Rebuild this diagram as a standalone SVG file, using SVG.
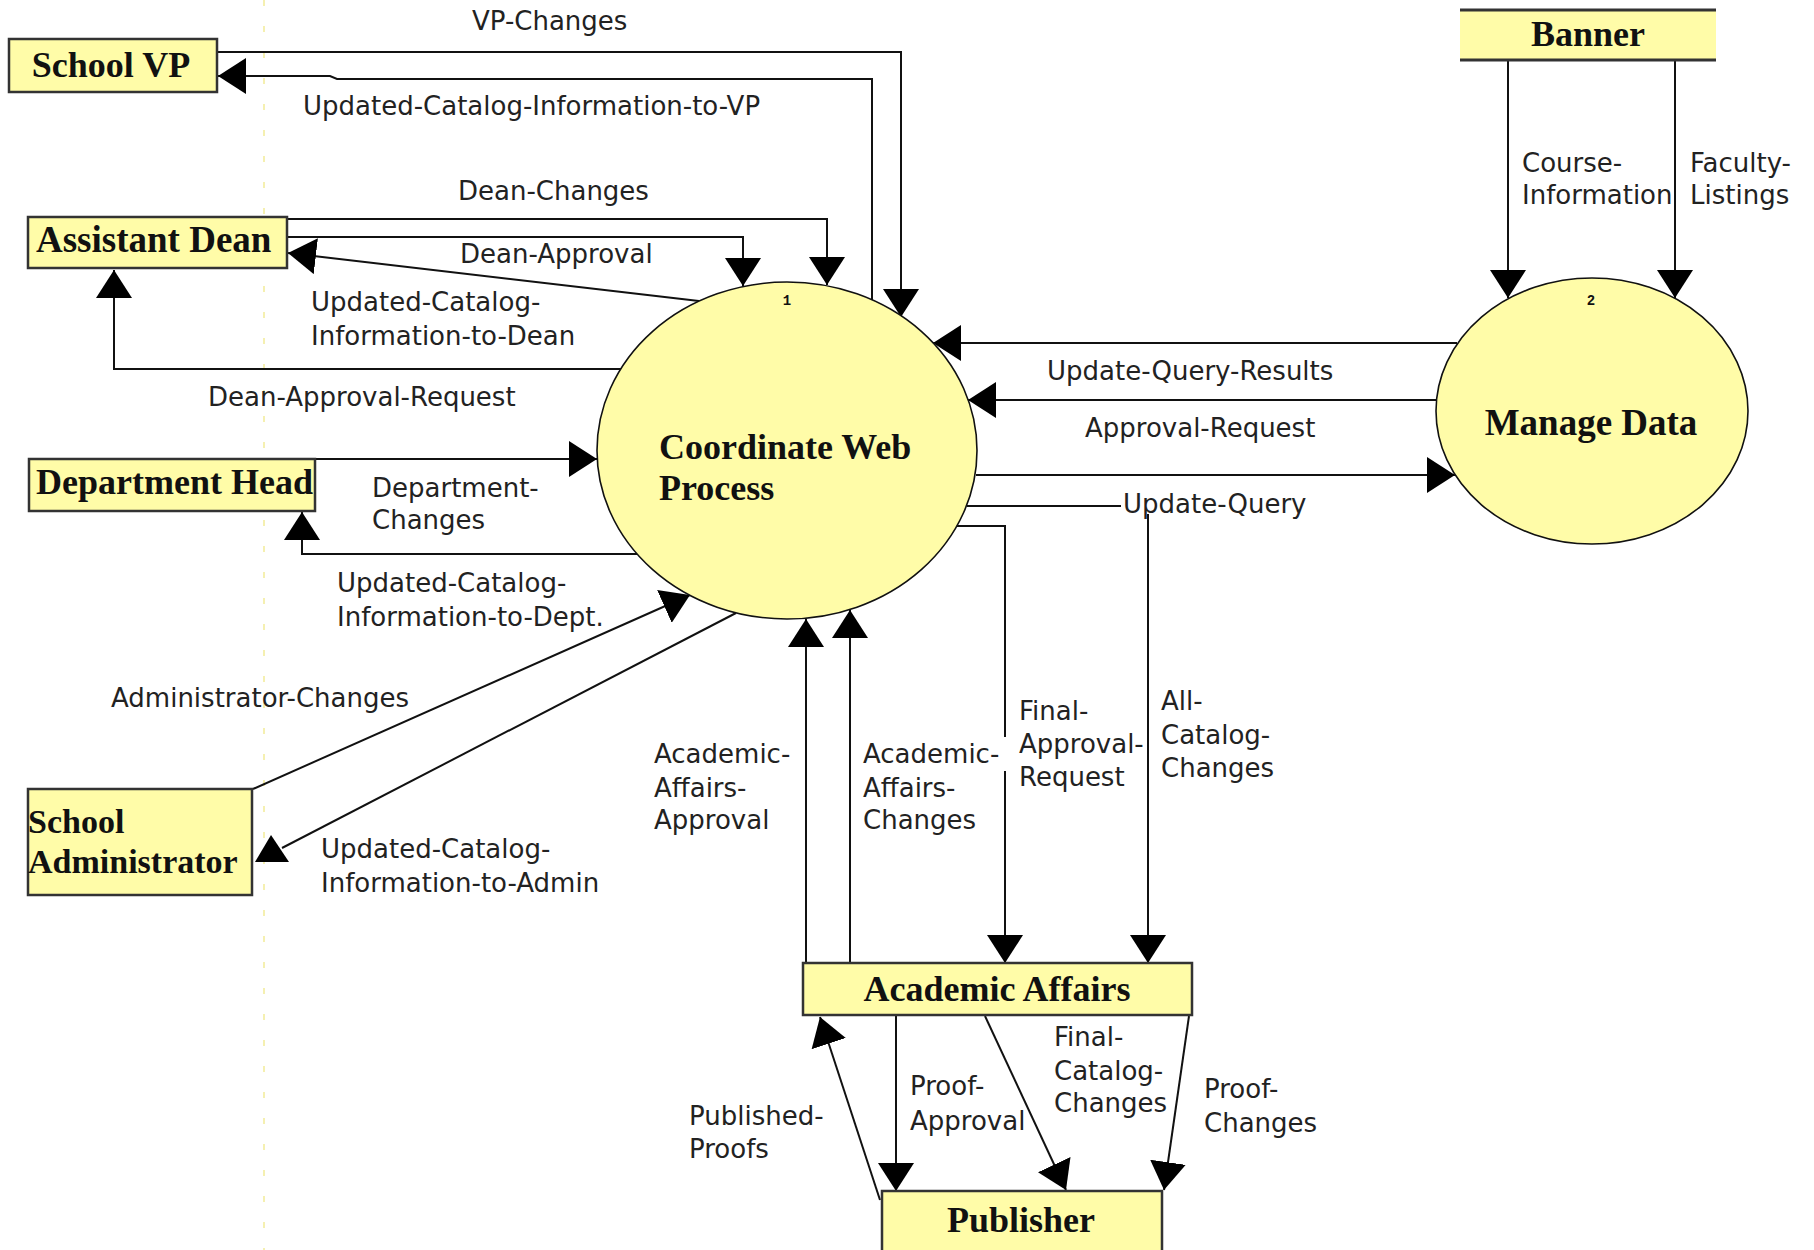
<svg xmlns="http://www.w3.org/2000/svg" width="1814" height="1250" viewBox="0 0 1814 1250">
<defs>
<style>
.box{fill:#fffca8;stroke:#333;stroke-width:2.5}
.proc{fill:#fffca8;stroke:#111;stroke-width:1.6}
.nt{font-family:"Liberation Serif","Times New Roman",serif;font-weight:bold;font-size:36px;fill:#111}
.lb{font-family:"DejaVu Sans",Verdana,sans-serif;font-size:26px;fill:#222}
.num{font-family:"Liberation Mono","Courier New",monospace;font-weight:bold;font-size:14px;fill:#111}
.cn{fill:none;stroke:#111;stroke-width:2}
.cn path{marker-end:url(#ah)}
</style>
<marker id="ah" viewBox="0 0 28 36" refX="28" refY="18" markerWidth="28" markerHeight="36" markerUnits="userSpaceOnUse" orient="auto">
<path d="M0,0 L28,18 L0,36 Z" fill="#000" stroke="none"/>
</marker>
</defs>
<rect width="1814" height="1250" fill="#fff"/>
<line x1="264" y1="0" x2="264" y2="1250" stroke="#f2ec98" stroke-width="1.5" stroke-dasharray="6 20"/>

<g id="connectors" class="cn">
<path id="vp-changes" d="M217,52 H901 V317"/>
<path id="upd-vp" d="M872,300 V79 H337 L330,76 H218"/>
<path id="dean-changes" d="M287,219 H827 V285"/>
<path id="dean-approval" d="M287,237 H743 V286"/>
<path id="upd-dean" d="M699,301 L288,253"/>
<path id="dean-approval-request" d="M622,369 H114 V270"/>
<path id="dept-changes" d="M315,459 H597"/>
<path id="upd-dept" d="M637,554 H302 V512"/>
<path id="admin-changes" d="M253,789 L690,595"/>
<path id="upd-admin" d="M736,613 L282,848" style="marker-end:none"/>
<polygon points="255,862 289,862 271,835" fill="#000" stroke="none"/>
<path id="upd-query-results" d="M1457,343 H933"/>
<path id="approval-request" d="M1437,400 H968"/>
<path id="update-query" d="M976,475 H1455"/>
<path id="all-catalog" d="M967,506 H1121 M1148,514 V963"/>
<path id="final-approval-a" d="M957,526 H1005 V737" style="marker-end:none"/>
<path id="final-approval-b" d="M1005,771 V963"/>
<path id="aa-approval" d="M806,963 V619"/>
<path id="aa-changes" d="M850,963 V610"/>
<path id="proof-approval" d="M896,1015 V1191"/>
<path id="final-catalog" d="M985,1016 L1066,1190"/>
<path id="proof-changes" d="M1189,1016 L1164,1190"/>
<path id="published-proofs" d="M880,1200 L820,1017"/>
<path id="course-info" d="M1508,60 V298"/>
<path id="faculty-listings" d="M1675,60 V298"/>
</g>

<g id="labels" class="lb">
<text x="472" y="30">VP-Changes</text>
<text x="303" y="115">Updated-Catalog-Information-to-VP</text>
<text x="458" y="200">Dean-Changes</text>
<text x="460" y="263">Dean-Approval</text>
<text x="311" y="311">Updated-Catalog-</text>
<text x="311" y="345">Information-to-Dean</text>
<text x="208" y="406">Dean-Approval-Request</text>
<text x="372" y="497">Department-</text>
<text x="372" y="529">Changes</text>
<text x="337" y="592">Updated-Catalog-</text>
<text x="337" y="626">Information-to-Dept.</text>
<text x="111" y="707">Administrator-Changes</text>
<text x="321" y="858">Updated-Catalog-</text>
<text x="321" y="892">Information-to-Admin</text>
<text x="1047" y="380">Update-Query-Results</text>
<text x="1085" y="437">Approval-Request</text>
<text x="1123" y="513">Update-Query</text>
<text x="1019" y="720">Final-</text>
<text x="1019" y="753">Approval-</text>
<text x="1019" y="786">Request</text>
<text x="1161" y="710">All-</text>
<text x="1161" y="744">Catalog-</text>
<text x="1161" y="777">Changes</text>
<text x="654" y="763">Academic-</text>
<text x="654" y="797">Affairs-</text>
<text x="654" y="829">Approval</text>
<text x="863" y="763">Academic-</text>
<text x="863" y="797">Affairs-</text>
<text x="863" y="829">Changes</text>
<text x="910" y="1095">Proof-</text>
<text x="910" y="1130">Approval</text>
<text x="1054" y="1046">Final-</text>
<text x="1054" y="1080">Catalog-</text>
<text x="1054" y="1112">Changes</text>
<text x="1204" y="1098">Proof-</text>
<text x="1204" y="1132">Changes</text>
<text x="689" y="1125">Published-</text>
<text x="689" y="1158">Proofs</text>
<text x="1522" y="172">Course-</text>
<text x="1522" y="204">Information</text>
<text x="1690" y="172">Faculty-</text>
<text x="1690" y="204">Listings</text>
</g>

<g id="school-vp">
<rect class="box" x="9" y="39" width="208" height="53"/>
<text class="nt" x="111" y="77" text-anchor="middle">School VP</text>
</g>
<g id="banner">
<rect x="1460" y="9" width="256" height="51" fill="#fffca8"/>
<line x1="1460" y1="10" x2="1716" y2="10" stroke="#333" stroke-width="3"/>
<line x1="1460" y1="60" x2="1716" y2="60" stroke="#333" stroke-width="3"/>
<text class="nt" x="1588" y="46" text-anchor="middle">Banner</text>
</g>
<g id="assistant-dean">
<rect class="box" x="28" y="217" width="259" height="51"/>
<text class="nt" x="36" y="252" style="font-size:37px">Assistant Dean</text>
</g>
<g id="department-head">
<rect class="box" x="29" y="459" width="286" height="52"/>
<text class="nt" x="36" y="494">Department Head</text>
</g>
<g id="school-administrator">
<rect class="box" x="28" y="789" width="224" height="106"/>
<text class="nt" x="28" y="833" style="font-size:34px">School</text>
<text class="nt" x="28" y="873" style="font-size:34px">Administrator</text>
</g>
<g id="academic-affairs">
<rect class="box" x="803" y="963" width="389" height="52"/>
<text class="nt" x="997" y="1001" text-anchor="middle">Academic Affairs</text>
</g>
<g id="publisher">
<rect class="box" x="882" y="1191" width="280" height="70"/>
<text class="nt" x="1021" y="1232" text-anchor="middle">Publisher</text>
</g>
<g id="coordinate-web-process">
<ellipse class="proc" cx="787" cy="450.5" rx="190" ry="168.5"/>
<text class="num" x="787" y="305" text-anchor="middle">1</text>
<text class="nt" x="659" y="459">Coordinate Web</text>
<text class="nt" x="659" y="500">Process</text>
</g>
<g id="manage-data">
<ellipse class="proc" cx="1592" cy="411" rx="156" ry="133"/>
<text class="num" x="1591" y="305" text-anchor="middle">2</text>
<text class="nt" x="1591" y="435" text-anchor="middle" style="font-size:37px">Manage Data</text>
</g>
</svg>
